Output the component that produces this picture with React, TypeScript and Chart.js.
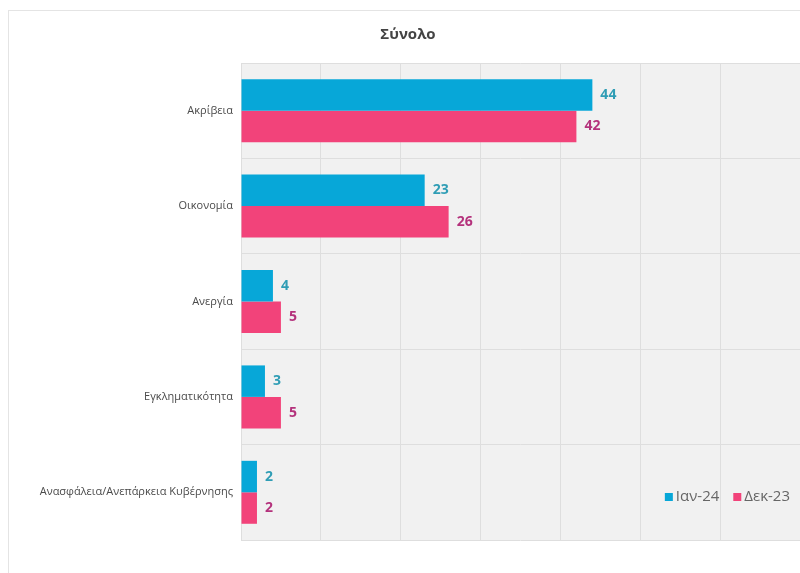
import React, { useEffect, useRef } from "react";
import { Chart, registerables } from "chart.js";

Chart.register(...registerables);

const categories = [
  "Ακρίβεια",
  "Οικονομία",
  "Ανεργία",
  "Εγκληματικότητα",
  "Ανασφάλεια/Ανεπάρκεια Κυβέρνησης",
];
const seriesNames = ["Ιαν-24", "Δεκ-23"];
const jan24 = [44, 23, 4, 3, 2];
const dec23 = [42, 26, 5, 5, 2];
const barColors = ["#07a7d8", "#f2437a"];
const labelColors = ["#2f9db5", "#b4327c"];
const xMax = 70;

const FONT = "'Open Sans', 'Noto Sans', sans-serif";

const bgPlugin = {
  id: "plotBg",
  beforeDraw(chart: any) {
    const { ctx, chartArea } = chart;
    if (!chartArea) return;
    ctx.save();
    ctx.fillStyle = "#f1f1f1";
    ctx.fillRect(chartArea.left, chartArea.top, chartArea.right - chartArea.left, chartArea.bottom - chartArea.top);
    ctx.restore();
  },
};

const labelPlugin = {
  id: "valueLabels",
  afterDatasetsDraw(chart: any) {
    const { ctx } = chart;
    ctx.save();
    ctx.font = `bold 14px ${FONT}`;
    ctx.textBaseline = "middle";
    ctx.textAlign = "left";
    chart.data.datasets.forEach((ds: any, di: number) => {
      const meta = chart.getDatasetMeta(di);
      meta.data.forEach((bar: any, i: number) => {
        ctx.fillStyle = labelColors[di];
        ctx.fillText(String(ds.data[i]), bar.x + 8, bar.y);
      });
    });
    ctx.restore();
  },
};

const legendPlugin = {
  id: "innerLegend",
  afterDraw(chart: any) {
    const { ctx, chartArea } = chart;
    ctx.save();
    ctx.font = `15px ${FONT}`;
    ctx.textBaseline = "middle";
    const y = chartArea.bottom - 43;
    let x = chartArea.right - 10;
    for (let i = seriesNames.length - 1; i >= 0; i--) {
      const w = ctx.measureText(seriesNames[i]).width;
      x -= w;
      ctx.fillStyle = "#666666";
      ctx.textAlign = "left";
      ctx.fillText(seriesNames[i], x, y);
      x -= 11;
      ctx.fillStyle = barColors[i];
      ctx.fillRect(x, y - 4, 8, 8);
      x -= 14;
    }
    ctx.restore();
  },
};

export default function App() {
  const ref = useRef<HTMLCanvasElement>(null);
  useEffect(() => {
    if (!ref.current) return;
    const chart = new Chart(ref.current, {
      type: "bar",
      data: {
        labels: categories,
        datasets: [
          { label: seriesNames[0], data: jan24, backgroundColor: barColors[0] },
          { label: seriesNames[1], data: dec23, backgroundColor: barColors[1] },
        ],
      },
      options: {
        indexAxis: "y",
        animation: false,
        responsive: false,
        datasets: { bar: { categoryPercentage: 0.66, barPercentage: 1 } },
        layout: { padding: { left: 16, right: 0, top: 0, bottom: 33 } },
        scales: {
          x: {
            min: 0,
            max: xMax,
            ticks: { display: false, stepSize: 10 },
            grid: { color: "#dedede", drawTicks: false },
            border: { display: false },
          },
          y: {
            ticks: { color: "#4a4a4a", font: { family: FONT, size: 11 }, padding: 8 },
            grid: { color: "#dedede", drawTicks: false, offset: true },
            border: { display: false },
            afterFit: (scale: any) => {
              scale.width = 225;
            },
          },
        },
        plugins: {
          legend: { display: false },
          tooltip: { enabled: false },
          title: {
            display: true,
            text: "Σύνολο",
            color: "#444444",
            font: { family: FONT, size: 15, weight: "bold" },
            padding: { top: 26, bottom: 19 },
          },
        },
      },
      plugins: [bgPlugin, labelPlugin, legendPlugin],
    });
    return () => chart.destroy();
  }, []);
  return (
    <div style={{ position: "fixed", left: 0, top: 0, width: 800, height: 573, background: "#fff" }}>
      <div
        style={{
          position: "absolute",
          left: 8,
          top: 10,
          width: 800,
          height: 580,
          border: "1px solid #e4e4e4",
          boxSizing: "border-box",
        }}
      />
      <canvas ref={ref} width={800} height={573} style={{ position: "absolute", left: 0, top: 0 }} />
    </div>
  );
}
